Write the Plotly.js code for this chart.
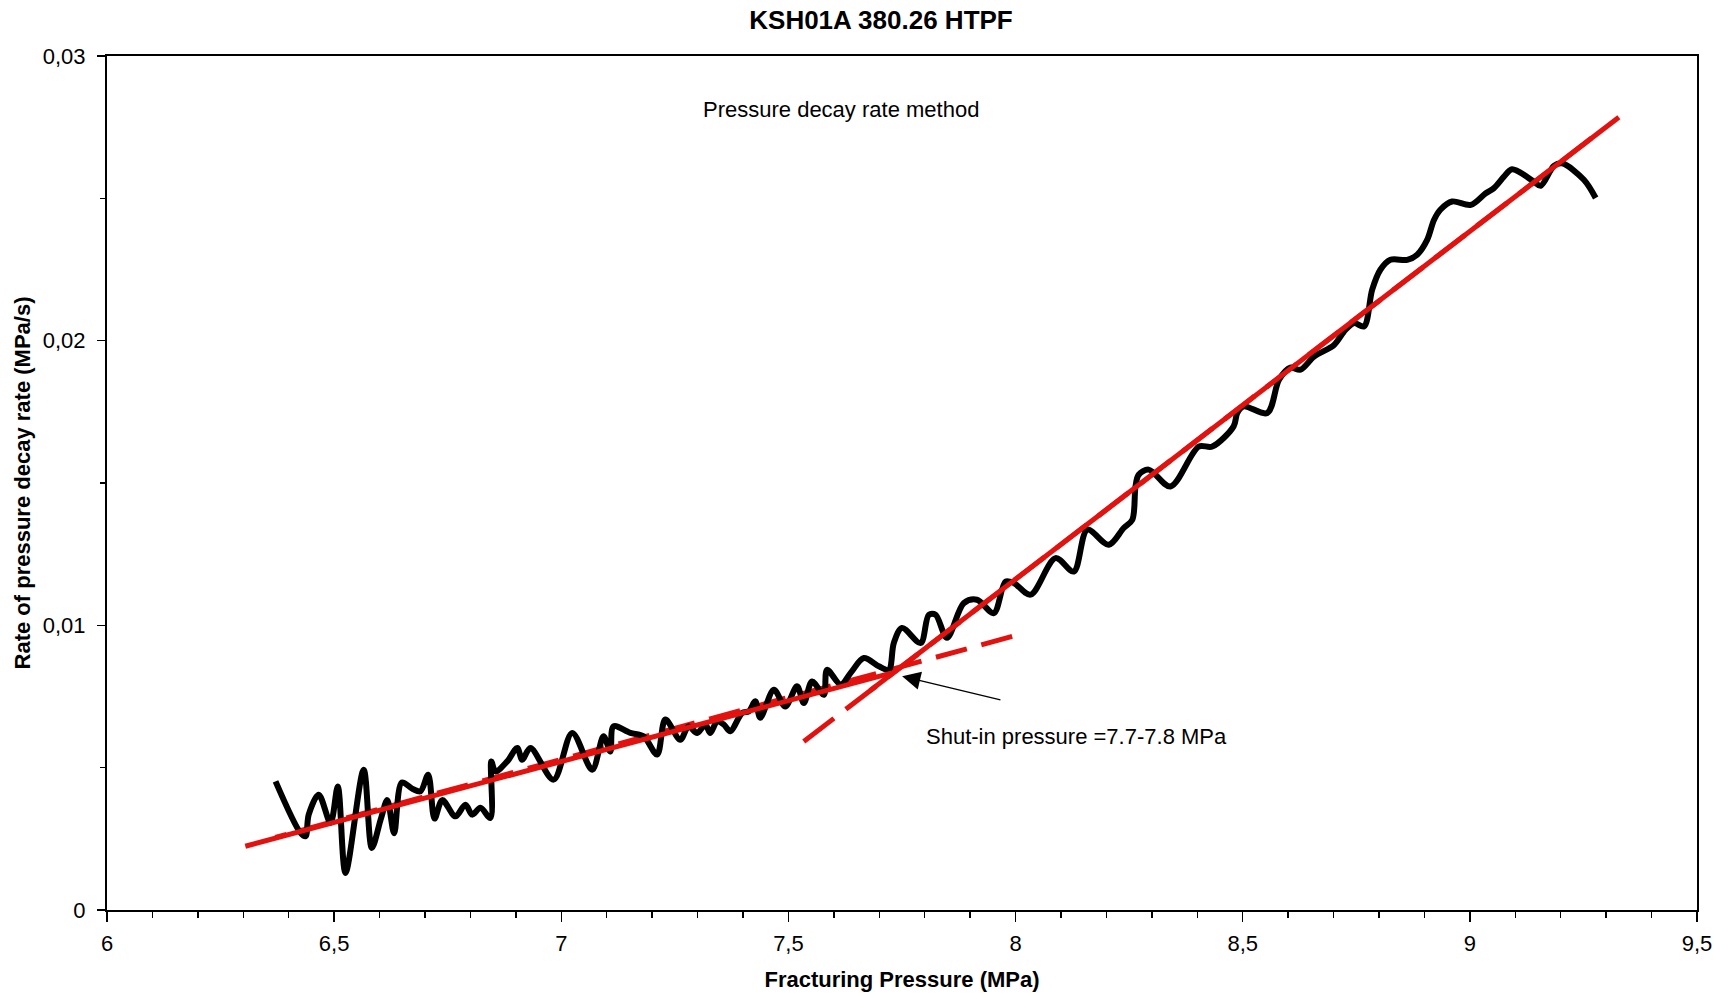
<!DOCTYPE html>
<html>
<head>
<meta charset="utf-8">
<script src="https://cdn.plot.ly/plotly-3.0.1.min.js"></script>
<style>
  html, body { margin: 0; padding: 0; background: #ffffff; }
  #chart { width: 1724px; height: 999px; }
</style>
</head>
<body>
<div id="chart"></div>
<script>
// ---- Data ----
const chartTitle = 'KSH01A 380.26 HTPF';
const xAxisTitle = 'Fracturing Pressure (MPa)';
const yAxisTitle = 'Rate of pressure decay rate (MPa/s)';
const methodLabel = 'Pressure decay rate method';
const shutInLabel = 'Shut-in pressure =7.7-7.8 MPa';

// measured curve: fracturing pressure (MPa)
const pressure = [
  6.371, 6.426, 6.437, 6.444, 6.466, 6.492, 6.508, 6.525, 6.565, 6.583,
  6.603, 6.617, 6.632, 6.649, 6.673, 6.690, 6.707, 6.721, 6.738, 6.767,
  6.789, 6.804, 6.822, 6.844, 6.846, 6.855, 6.881, 6.903, 6.914, 6.932,
  6.983, 7.024, 7.068, 7.093, 7.108, 7.115, 7.152, 7.181, 7.211, 7.229,
  7.262, 7.280, 7.299, 7.317, 7.328, 7.343, 7.358, 7.372, 7.398, 7.413,
  7.427, 7.438, 7.468, 7.493, 7.519, 7.534, 7.552, 7.578, 7.585, 7.615,
  7.637, 7.666, 7.699, 7.721, 7.732, 7.750, 7.791, 7.809, 7.824, 7.849,
  7.886, 7.915, 7.952, 7.978, 7.996, 8.033, 8.088, 8.128, 8.158, 8.205,
  8.238, 8.257, 8.264, 8.271, 8.293, 8.341, 8.403, 8.433, 8.480, 8.488,
  8.502, 8.554, 8.580, 8.605, 8.627, 8.657, 8.701, 8.726, 8.745, 8.767,
  8.785, 8.803, 8.825, 8.862, 8.884, 8.906, 8.921, 8.935, 8.961, 9.002,
  9.035, 9.053, 9.075, 9.093, 9.141, 9.156, 9.185, 9.203, 9.251, 9.277
];
// measured curve: rate of pressure decay rate (MPa/s)
const decayRate = [
  0.00452, 0.00271, 0.00259, 0.00335, 0.00405, 0.00306, 0.00434, 0.00130, 0.00493, 0.00218,
  0.00321, 0.00386, 0.00270, 0.00448, 0.00425, 0.00417, 0.00475, 0.00321, 0.00386, 0.00329,
  0.00370, 0.00335, 0.00359, 0.00323, 0.00522, 0.00487, 0.00522, 0.00569, 0.00528, 0.00569,
  0.00458, 0.00622, 0.00493, 0.00610, 0.00557, 0.00645, 0.00622, 0.00610, 0.00546, 0.00669,
  0.00598, 0.00645, 0.00622, 0.00651, 0.00622, 0.00663, 0.00651, 0.00628, 0.00692, 0.00698,
  0.00733, 0.00675, 0.00774, 0.00715, 0.00786, 0.00727, 0.00803, 0.00756, 0.00844, 0.00792,
  0.00833, 0.00885, 0.00856, 0.00844, 0.00938, 0.00991, 0.00938, 0.01037, 0.01037, 0.00956,
  0.01078, 0.01090, 0.01043, 0.01154, 0.01149, 0.01108, 0.01236, 0.01189, 0.01336, 0.01283,
  0.01342, 0.01371, 0.01488, 0.01529, 0.01547, 0.01488, 0.01628, 0.01628, 0.01699, 0.01746,
  0.01769, 0.01746, 0.01863, 0.01905, 0.01898, 0.01944, 0.01985, 0.02038, 0.02062, 0.02050,
  0.02179, 0.02249, 0.02284, 0.02284, 0.02302, 0.02354, 0.02424, 0.02460, 0.02489, 0.02477,
  0.02518, 0.02536, 0.02576, 0.02602, 0.02559, 0.02544, 0.02614, 0.02623, 0.02565, 0.02501
];

// fitted straight lines (end points)
const lowFitX = [6.3045, 7.728];
const lowFitY = [0.00224, 0.00833];
const lowExtX = [7.9925, 6.3705];
const lowExtY = [0.00961, 0.00255];
const highFitX = [7.68, 9.328];
const highFitY = [0.00771, 0.02785];
const highExtX = [7.5337, 9.2805];
const highExtY = [0.00592, 0.02727];

// annotation anchor values
const methodPos = [7.6165, 0.02811];
const shutInPos = [7.7985, 0.0061];
const arrowHead = [7.7503, 0.00821];
const arrowTail = [7.970, 0.00737];

// axis settings
const xRange = [6, 9.5];
const yRange = [0, 0.03];

// ---- Styling ----
const RED = '#e3120f';
const FONT = 'Liberation Sans, Arial, sans-serif';

const traces = [
  { x: lowExtX, y: lowExtY, mode: 'lines', hoverinfo: 'skip', showlegend: false,
    line: { color: RED, width: 5, dash: '32px,15px' } },
  { x: highExtX, y: highExtY, mode: 'lines', hoverinfo: 'skip', showlegend: false,
    line: { color: RED, width: 5, dash: '38px,15px' } },
  { x: pressure, y: decayRate, mode: 'lines', showlegend: false,
    line: { color: '#000000', width: 6, shape: 'spline', smoothing: 0.9 } },
  { x: lowFitX, y: lowFitY, mode: 'lines', hoverinfo: 'skip', showlegend: false,
    line: { color: RED, width: 5 } },
  { x: highFitX, y: highFitY, mode: 'lines', hoverinfo: 'skip', showlegend: false,
    line: { color: RED, width: 5 } }
];

const layout = {
  width: 1724, height: 999,
  paper_bgcolor: '#ffffff', plot_bgcolor: '#ffffff',
  separators: ',.',
  font: { family: FONT, size: 22, color: '#000000' },
  margin: { l: 107, r: 27, t: 56, b: 89, pad: 0 },
  showlegend: false,
  title: {
    text: chartTitle,
    font: { family: FONT, size: 26, weight: 'bold', color: '#000000' },
    x: 0.4868, xref: 'paper', xanchor: 'center',
    y: 0.980, yref: 'container', yanchor: 'middle'
  },
  xaxis: {
    range: xRange, dtick: 0.5, tick0: 6,
    showgrid: false, zeroline: false,
    showline: true, linecolor: '#000000', linewidth: 2, mirror: true,
    ticks: 'outside', ticklen: 10, tickwidth: 1.5, tickcolor: '#000000',
    minor: { dtick: 0.1, ticks: 'outside', ticklen: 6, tickwidth: 1.5, tickcolor: '#000000', showgrid: false },
    tickfont: { family: FONT, size: 22, color: '#000000' },
    ticklabelstandoff: 3,
    title: { text: xAxisTitle, font: { family: FONT, size: 22, weight: 'bold', color: '#000000' }, standoff: 16 }
  },
  yaxis: {
    range: yRange, dtick: 0.01, tick0: 0,
    showgrid: false, zeroline: false,
    showline: true, linecolor: '#000000', linewidth: 2, mirror: true,
    ticks: 'outside', ticklen: 8, tickwidth: 1.5, tickcolor: '#000000',
    minor: { dtick: 0.005, ticks: 'outside', ticklen: 5, tickwidth: 1.5, tickcolor: '#000000', showgrid: false },
    tickfont: { family: FONT, size: 22, color: '#000000' },
    ticklabelstandoff: 7,
    title: { text: yAxisTitle, font: { family: FONT, size: 22, weight: 'bold', color: '#000000' }, standoff: 6 }
  },
  annotations: [
    { x: methodPos[0], y: methodPos[1], xref: 'x', yref: 'y', text: methodLabel,
      showarrow: false, xanchor: 'center', yanchor: 'middle',
      font: { family: FONT, size: 22, color: '#000000' } },
    { x: shutInPos[0], y: shutInPos[1], xref: 'x', yref: 'y', text: shutInLabel,
      showarrow: false, xanchor: 'left', yanchor: 'middle',
      font: { family: FONT, size: 22, color: '#000000' } },
    { x: arrowHead[0], y: arrowHead[1], xref: 'x', yref: 'y',
      ax: arrowTail[0], ay: arrowTail[1], axref: 'x', ayref: 'y',
      text: '', showarrow: true, arrowhead: 2, arrowsize: 2.6, arrowwidth: 1.4,
      arrowcolor: '#000000', standoff: 0, startstandoff: 0 }
  ]
};

Plotly.newPlot('chart', traces, layout, { displayModeBar: false, staticPlot: true });
</script>
</body>
</html>
